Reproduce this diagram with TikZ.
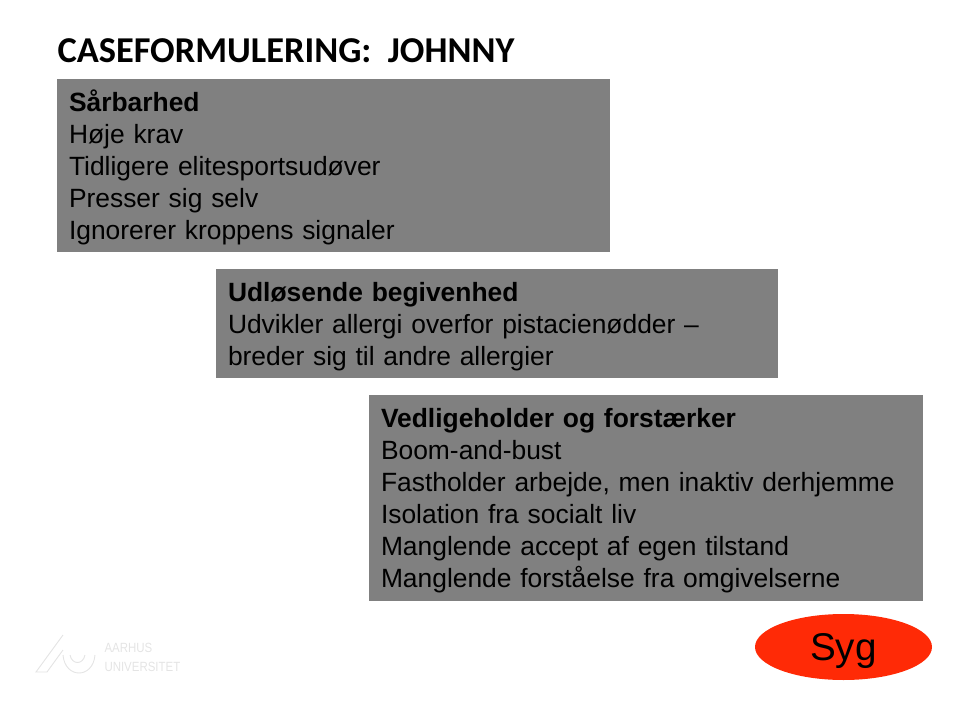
\documentclass[tikz,border=0pt]{standalone}
\usepackage{fontspec}
\setmainfont{Liberation Sans}
\newfontfamily\titlefont{Carlito}
\newfontfamily\logofont[FakeStretch=0.86]{Liberation Sans}
\usetikzlibrary{shapes.geometric}
\definecolor{boxgray}{RGB}{128,128,128}
\definecolor{sygred}{RGB}{255,42,6}
\definecolor{logogray}{RGB}{228,228,228}
\newcommand{\boxstrut}{\rule{0pt}{19pt}}
\tikzset{every picture/.style={line width=0.75pt}}
\tikzset{
  casebox/.style={fill=boxgray,anchor=north west,outer sep=0pt,inner xsep=9pt,inner ysep=0pt,align=left,font=\fontsize{19.8}{24}\selectfont,text=black},
  logotext/.style={anchor=west,inner sep=0pt,text=logogray,font=\logofont\fontsize{10}{12}\selectfont},
  logoline/.style={draw=logogray,line width=0.7pt}
}

\begin{document}
\begin{tikzpicture}[x=0.75pt,y=0.75pt,yscale=-1,xscale=1]
\useasboundingbox (0,0) rectangle (960,720);

% Title
\node (title) [anchor=west,inner sep=0pt] at (57,51) {\titlefont\fontsize{27.3}{30}\selectfont\bfseries CASEFORMULERING:\ \ JOHNNY};

% Boxes
\node (saarbarhed) [casebox,text width=396.75pt,minimum height=129.75pt] at (57,79) {\boxstrut\textbf{Sårbarhed}\\Høje krav\\Tidligere elitesportsudøver\\Presser sig selv\\Ignorerer kroppens signaler};
\node (udloesende) [casebox,text width=403.5pt,minimum height=81.75pt] at (216,269) {\boxstrut\textbf{Udløsende begivenhed}\\Udvikler allergi overfor pistacienødder –\\breder sig til andre allergier};
\node (vedligeholder) [casebox,text width=397.5pt,minimum height=154.5pt] at (369,395) {\boxstrut\textbf{Vedligeholder og forstærker}\\Boom-and-bust\\Fastholder arbejde, men inaktiv derhjemme\\Isolation fra socialt liv\\Manglende accept af egen tilstand\\Manglende forståelse fra omgivelserne};

% Ellipse
\node (syg) [ellipse,fill=sygred,minimum width=132.75pt,minimum height=49.5pt,inner sep=0pt,text depth=0pt,font=\fontsize{29}{32}\selectfont] at (843.5,647) {Syg};

% Logo
\draw [logoline] (47,672) -- (36,672) -- (63,635) (47,672) -- (63,650);
\draw [logoline] (63,655) .. controls (65,679) and (93,679) .. (95,655);
\draw [logoline] (70,655) .. controls (72,665) and (83,665) .. (85,655);
\node (aarhus) [logotext] at (104,648) {AARHUS};
\node (universitet) [logotext] at (104,667) {UNIVERSITET};

\end{tikzpicture}
\end{document}
